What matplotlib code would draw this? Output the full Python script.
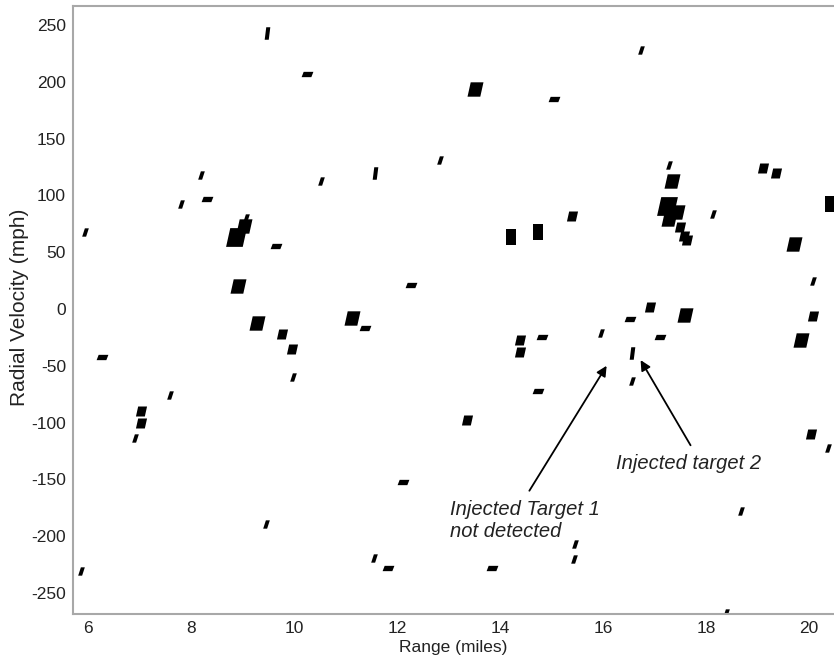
import matplotlib
matplotlib.use("Agg")
import matplotlib.pyplot as plt
from matplotlib.path import Path

plt.rcParams['font.family'] = ['Liberation Sans', 'DejaVu Sans']
plt.rcParams['axes.unicode_minus'] = False

# detections
range_mi = [5.94, 9.47, 10.25, 8.19, 7.80, 8.31, 10.52, 11.57,
            8.87, 9.03, 9.06, 9.65, 8.91, 12.27, 9.28, 11.12, 11.37,
            9.76, 9.96, 9.98, 6.27, 7.59, 7.03, 7.02, 6.91, 12.12,
            9.45, 11.55, 11.82, 5.86,
            16.73, 13.51, 15.04, 12.83, 15.39, 14.21, 14.73,
            17.28, 17.33, 17.25, 17.43, 17.29, 17.50, 17.57, 17.64,
            18.14, 19.11, 19.35, 20.41, 19.70, 20.08, 16.92, 16.53,
            17.60, 20.08, 14.38, 14.38, 14.81, 15.97, 16.57, 17.11,
            19.85, 16.57, 14.73, 13.35, 20.03, 20.37, 18.67, 15.45,
            15.43, 13.84, 18.38]
vel_mph = [68, 243, 207, 118, 92, 97, 113, 120,
           63, 73, 80, 55, 20, 21, -12, -8, -17,
           -22, -35, -60, -42, -76, -90, -100, -114, -152,
           -189, -219, -228, -231,
           228, 194, 185, 131, 82, 63, 68,
           127, 113, 91, 85, 79, 72, 64, 61,
           84, 124, 120, 92, 57, 25, 2, -9,
           -5, -6, -27, -38, -25, -21, -39, -25,
           -27, -63, -72, -98, -110, -122, -178, -207,
           -220, -228, -268]
kind = ['dot', 'vdash', 'hdash', 'dot', 'dot', 'hdash', 'dot', 'vdash',
        'big', 'blob', 'dot', 'hdash', 'blob', 'hdash', 'blob', 'blob', 'hdash',
        'small', 'small', 'dot', 'hdash', 'dot', 'small', 'small', 'dot', 'hdash',
        'dot', 'dot', 'hdash', 'dot',
        'dot', 'blob', 'hdash', 'dot', 'small', 'rect', 'rect',
        'dot', 'blob', 'big', 'blob', 'blob', 'small', 'small', 'small',
        'dot', 'small', 'small', 'rect', 'blob', 'dot', 'small', 'hdash',
        'blob', 'small', 'small', 'small', 'hdash', 'dot', 'vdash', 'hdash',
        'blob', 'dot', 'hdash', 'small', 'small', 'dot', 'dot', 'dot',
        'dot', 'hdash', 'dot']

xticks = [6, 8, 10, 12, 14, 16, 18, 20]
yticks = [-250, -200, -150, -100, -50, 0, 50, 100, 150, 200, 250]


def quad(pts):
    return Path(pts + [pts[0]], [Path.MOVETO] + [Path.LINETO] * 3 + [Path.CLOSEPOLY])


skewed = quad([(-1, -0.9), (0.6, -0.9), (1, 0.9), (-0.6, 0.9)])
styles = {
    'dot': (quad([(-0.8, -1), (0.15, -1), (0.8, 1), (-0.15, 1)]), 6),
    'hdash': (quad([(-1, -0.45), (0.65, -0.45), (1, 0.45), (-0.65, 0.45)]), 8.5),
    'vdash': (quad([(-0.45, -1), (0.2, -1), (0.45, 1), (-0.2, 1)]), 9),
    'small': (skewed, 8),
    'blob': (skewed, 11.5),
    'big': (skewed, 15),
    'rect': (quad([(-0.3, -0.5), (0.3, -0.5), (0.3, 0.5), (-0.3, 0.5)]), 11),
}

fig = plt.figure(figsize=(8.34, 6.62), dpi=100)
ax = fig.add_axes([73 / 834, 48 / 662, 761 / 834, 608 / 662])

for k, (path, ms) in styles.items():
    xs = [x for x, kk in zip(range_mi, kind) if kk == k]
    ys = [y for y, kk in zip(vel_mph, kind) if kk == k]
    ax.plot(xs, ys, linestyle='none', marker=path, markersize=ms,
            color='black', markeredgewidth=0)

ax.set_xlim(5.709, 20.485)
ax.set_ylim(-268.5, 266.7)
ax.set_xticks(xticks)
ax.set_yticks(yticks)
ax.tick_params(length=0, labelsize=12.5, labelcolor='#222222', pad=5)
for s in ['left', 'top', 'bottom']:
    ax.spines[s].set_color('#a8a8a8')
    ax.spines[s].set_linewidth(1.5)
ax.spines['right'].set_visible(False)

ax.set_xlabel('Range (miles)', fontsize=12.5, color='#222222')
ax.set_ylabel('Radial Velocity (mph)', fontsize=15, color='#222222')
ax.xaxis.set_label_coords(0.5, -0.043)
ax.yaxis.set_label_coords(-0.058, 0.505)

arrow = dict(arrowstyle='-|>', color='black', lw=1.3, mutation_scale=15,
             shrinkA=0, shrinkB=0)
ax.annotate('', xy=(16.73, -45), xytext=(17.70, -120), arrowprops=arrow)
ax.annotate('', xy=(16.07, -50), xytext=(14.57, -160), arrowprops=arrow)
ax.text(17.66, -136, 'Injected target 2', fontsize=14.5, style='italic',
        ha='center', va='center', color='#222222')
ax.text(13.02, -186.5, 'Injected Target 1\nnot detected', fontsize=14.5,
        style='italic', ha='left', va='center', color='#222222',
        linespacing=1.2)

fig.savefig('out.png', dpi=100)
